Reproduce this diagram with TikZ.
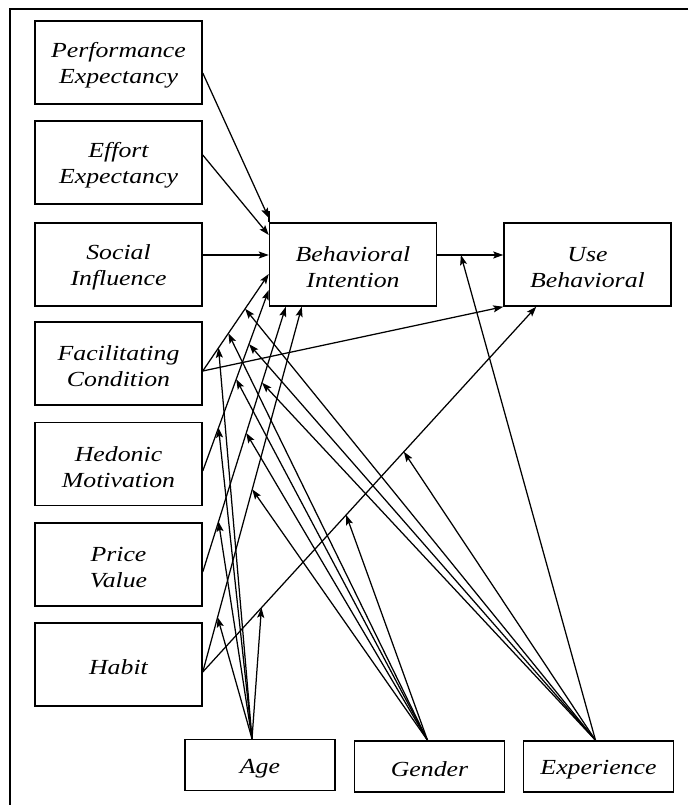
\documentclass[tikz,border=0pt]{standalone}
\usepackage{fontspec}
\setmainfont{Liberation Serif}[FakeStretch=1.2]
\usetikzlibrary{arrows.meta,calc}
% strut that lowers the label block inside its box
\newcommand\toppad{\rule{0pt}{21pt}}
\begin{document}
\begin{tikzpicture}[x=1pt,y=-1pt,
  box/.style={draw,line width=1.5pt,minimum width=167pt,minimum height=83pt,
    inner sep=0pt,align=center,font=\fontsize{21.5}{26}\selectfont\itshape},
  modbox/.style={box,minimum width=150pt,minimum height=51pt},
  link/.style={line width=1.25pt,-{Stealth[length=10pt,width=7pt,inset=2pt]}},
]
\useasboundingbox (0,0) rectangle (688,805);
% outer frame (top and left edges)
\draw[line width=2pt] (688,9) -- (10,9) -- (10,805);

% constructs
\node[box] (pe) at (118.5,62.5) {\toppad Performance\\Expectancy};
\node[box] (ee) at (118.5,162.5) {\toppad Effort\\Expectancy};
\node[box] (si) at (118.5,264.5) {\toppad Social\\Influence};
\node[box] (fc) at (118.5,363.5) {\toppad Facilitating\\Condition};
\node[box] (hm) at (118.5,464) {\toppad Hedonic\\Motivation};
\node[box] (pv) at (118.5,564.5) {\toppad Price\\Value};
\node[box] (ht) at (118.5,664.5) {\toppad Habit};
\node[box] (bi) at (353,264.5) {\toppad Behavioral\\Intention};
\node[box] (ub) at (587.5,264.5) {\toppad Use\\Behavioral};
% moderators
\node[modbox] (age) at (260,765) {\toppad Age};
\node[modbox] (gen) at (429.5,766.5) {\toppad Gender};
\node[modbox] (exp) at (598.5,766.5) {\toppad Experience};

\draw[line width=1.5pt] (bi.north west) -- ++(0,-11);

% connection points on the boxes
\coordinate (peO) at ($(pe.east)+(0,10.5)$);
\coordinate (eeO) at ($(ee.east)+(0,-7.5)$);
\coordinate (siO) at ($(si.east)+(0,-9.5)$);
\coordinate (fcO) at ($(fc.east)+(0,7.5)$);
\coordinate (hmO) at ($(hm.east)+(0,7)$);
\coordinate (pvO) at ($(pv.east)+(0,7.5)$);
\coordinate (htO) at ($(ht.east)+(0,7.5)$);
\coordinate (peIn) at ($(bi.west)+(0,-46.5)$);
\coordinate (eeIn) at ($(bi.west)+(0,-29.5)$);
\coordinate (siIn) at ($(bi.west)+(0,-9.5)$);
\coordinate (fcIn) at ($(bi.west)+(0,9.5)$);
\coordinate (hmIn) at ($(bi.west)+(0,25.5)$);
\coordinate (pvIn) at ($(bi.south west)+(17,0)$);
\coordinate (htIn) at ($(bi.south west)+(33,0)$);
\coordinate (biO) at ($(bi.east)+(0,-9.5)$);
\coordinate (ubIn) at ($(ub.west)+(0,-9.5)$);
\coordinate (fcU) at (ub.south west);
\coordinate (htU) at ($(ub.south west)+(33,0)$);
\coordinate (ageT) at ($(age.north)+(-8,0)$);
\coordinate (genT) at ($(gen.north)+(-2,0)$);
\coordinate (expT) at ($(exp.north)+(-3,0)$);

% direct effects
\draw[link] (peO) -- (peIn);
\draw[link] (eeO) -- (eeIn);
\draw[link] (siO) -- (siIn);
\draw[link] (fcO) -- (fcIn);
\draw[link] (hmO) -- (hmIn);
\draw[link] (pvO) -- (pvIn);
\draw[link] (htO) -- (htIn);
\draw[link] (biO) -- (ubIn);
\draw[link] (fcO) -- (fcU);
\draw[link] (htO) -- (htU);

% points where the moderators meet the paths
\coordinate (fcA) at ($(fcO)!0.239!(fcIn)$);
\coordinate (fcG) at ($(fcO)!0.388!(fcIn)$);
\coordinate (fcE) at ($(fcO)!0.642!(fcIn)$);
\coordinate (hmA) at ($(hmO)!0.239!(hmIn)$);
\coordinate (hmG) at ($(hmO)!0.507!(hmIn)$);
\coordinate (hmE) at ($(hmO)!0.701!(hmIn)$);
\coordinate (pvA) at ($(pvO)!0.19!(pvIn)$);
\coordinate (pvG) at ($(pvO)!0.524!(pvIn)$);
\coordinate (pvE) at ($(pvO)!0.714!(pvIn)$);
\coordinate (htA) at ($(htO)!0.15!(htIn)$);
\coordinate (htG) at ($(htO)!0.50!(htIn)$);
\coordinate (huA) at ($(htO)!0.176!(htU)$);
\coordinate (huG) at ($(htO)!0.43!(htU)$);
\coordinate (huE) at ($(htO)!0.603!(htU)$);
\coordinate (buE) at ($(biO)!0.358!(ubIn)$);

% moderating effects
\foreach \t in {fcA,hmA,pvA,htA,huA} \draw[link] (ageT) -- (\t);
\foreach \t in {fcG,hmG,pvG,htG,huG} \draw[link] (genT) -- (\t);
\foreach \t in {fcE,hmE,pvE,huE,buE} \draw[link] (expT) -- (\t);
\end{tikzpicture}
\end{document}
